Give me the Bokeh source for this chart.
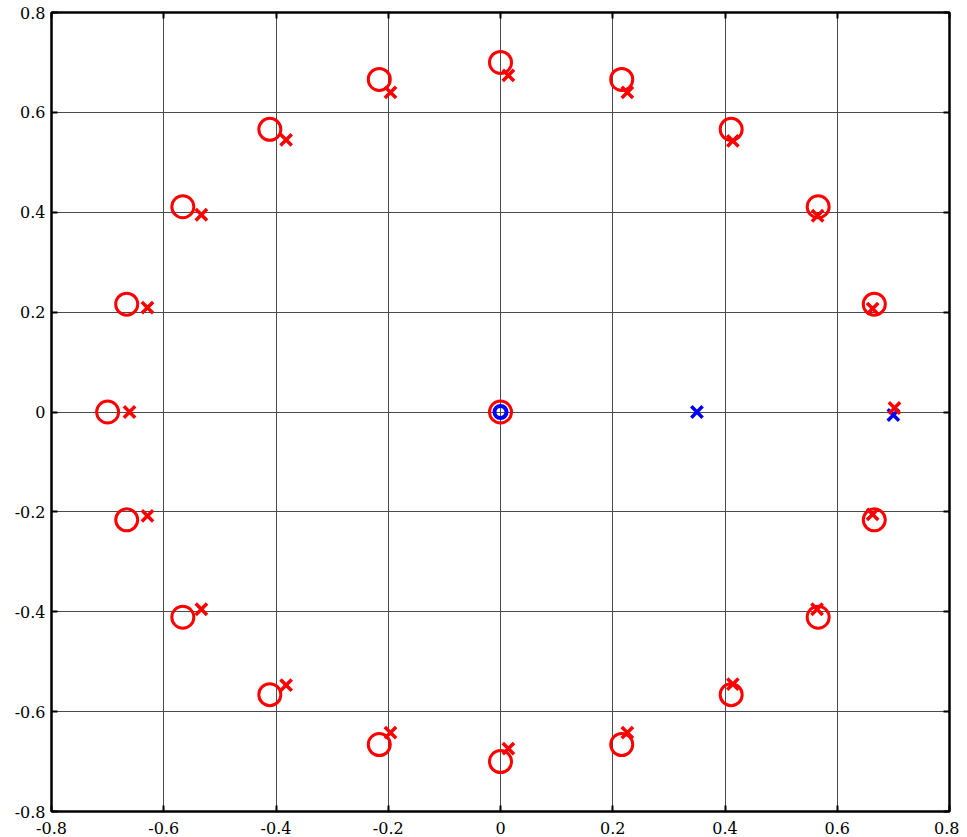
from bokeh.plotting import figure
from bokeh.models import LinearAxis, FixedTicker, Range1d
from bokeh.embed import file_html
from bokeh.resources import INLINE

# Red circles
circle_x = [0.666, 0.566, 0.411, 0.216, 0.0, -0.216, -0.411, -0.566, -0.666, -0.700,
            -0.666, -0.566, -0.411, -0.216, 0.0, 0.216, 0.411, 0.566, 0.666, 0.0]
circle_y = [0.216, 0.411, 0.566, 0.666, 0.700, 0.666, 0.566, 0.411, 0.216, 0.0,
            -0.216, -0.411, -0.566, -0.666, -0.700, -0.666, -0.566, -0.411, -0.216, 0.0]

# Red crosses
cross_x = [0.014, 0.226, 0.414, 0.565, 0.663, 0.702, 0.663, 0.564, 0.414, 0.226,
           0.014, -0.196, -0.382, -0.533, -0.629, -0.661, -0.629, -0.533, -0.382, -0.196]
cross_y = [0.674, 0.640, 0.543, 0.393, 0.207, 0.008, -0.205, -0.395, -0.545, -0.642,
           -0.674, -0.642, -0.547, -0.395, -0.208, 0.0, 0.209, 0.395, 0.545, 0.640]

# Blue markers
blue_cross_x = [0.350, 0.700]
blue_cross_y = [0.0, -0.006]
blue_circle_x = [0.0]
blue_circle_y = [0.0]

ticks = [-0.8, -0.6, -0.4, -0.2, 0.0, 0.2, 0.4, 0.6, 0.8]
tick_labels = ["-0.8", "-0.6", "-0.4", "-0.2", "0", "0.2", "0.4", "0.6", "0.8"]
overrides = {t: l for t, l in zip(ticks, tick_labels)}

p = figure(frame_width=898, frame_height=799,
           x_range=Range1d(-0.8, 0.8), y_range=Range1d(-0.8, 0.8),
           output_backend="svg", toolbar_location=None,
           min_border_left=51, min_border_top=12, min_border_right=10, min_border_bottom=26,
           background_fill_color="white", border_fill_color="white")

p.outline_line_color = "black"
p.outline_line_width = 2

FONT = "DejaVu Serif"

def style_axis(ax, show_labels=True):
    ax.ticker = FixedTicker(ticks=ticks)
    ax.major_label_overrides = overrides
    ax.axis_line_color = "black"
    ax.axis_line_width = 2
    ax.major_tick_in = 6
    ax.major_tick_out = 0
    ax.major_tick_line_color = "black"
    ax.major_tick_line_width = 2
    ax.minor_tick_line_color = None
    ax.major_label_text_font = FONT
    ax.major_label_text_color = "black"
    if show_labels:
        ax.major_label_text_font_size = "16px"
    else:
        ax.major_label_text_font_size = "0px"
        ax.major_label_text_color = None
        ax.major_label_standoff = 0

style_axis(p.xaxis[0])
style_axis(p.yaxis[0])
p.xaxis[0].major_label_standoff = 10
p.yaxis[0].major_label_standoff = 6

top_ax = LinearAxis()
style_axis(top_ax, show_labels=False)
p.add_layout(top_ax, "above")
right_ax = LinearAxis()
style_axis(right_ax, show_labels=False)
p.add_layout(right_ax, "right")

for g in (p.xgrid[0], p.ygrid[0]):
    g.ticker = FixedTicker(ticks=ticks)
    g.grid_line_color = "#4a4a4a"
    g.grid_line_width = 1

# Blue first so red draws on top
p.scatter(blue_circle_x, blue_circle_y, marker="circle", size=12,
          fill_color=None, line_color="#0000ff", line_width=4)
p.scatter(blue_cross_x, blue_cross_y, marker="x", size=16,
          line_color="#0000ff", line_width=3.5)

p.scatter(circle_x, circle_y, marker="circle", size=22,
          fill_color=None, line_color="#ff0000", line_width=3)
p.scatter(cross_x, cross_y, marker="x", size=16,
          line_color="#ff0000", line_width=3.5)

open("out.html", "w").write(file_html(p, INLINE))
